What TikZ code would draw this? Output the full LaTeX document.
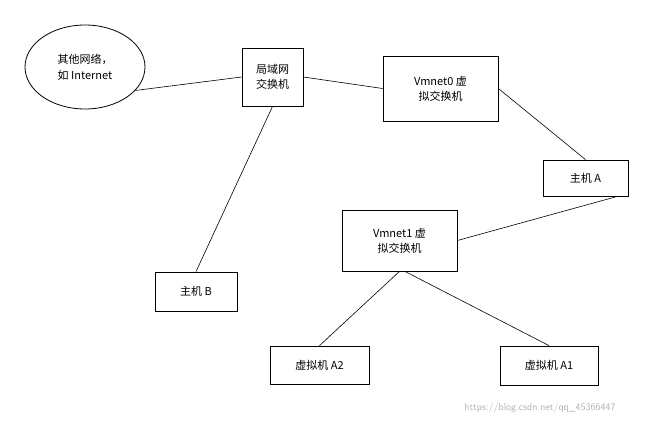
\documentclass[tikz,border=0pt]{standalone}
\usepackage{fontspec}
\setmainfont{Liberation Serif}
\newfontfamily\cjk{Noto Sans CJK SC}
\usetikzlibrary{shapes.geometric}
\begin{document}
\begin{tikzpicture}[x=1pt,y=-1pt,
  box/.style={draw,thick,minimum width=#1,inner sep=0pt,align=center,font=\cjk\fontsize{11}{15}\selectfont},
  ln/.style={draw,line width=0.6pt}]
\useasboundingbox[fill=white] (0,0) rectangle (664,426);
\node[draw,thick,ellipse,minimum width=120,minimum height=84,align=center,font=\cjk\fontsize{11}{16}\selectfont] (net) at (85,67) {其他网络，\\如 Internet};
\node[box=61,minimum height=58] (sw) at (272.5,77) {局域网\\交换机};
\node[box=115,minimum height=65] (v0) at (440.5,88.5) {Vmnet0 虚\\拟交换机};
\node[box=85,minimum height=36] (ha) at (585.5,178) {主机 A};
\node[box=115,minimum height=61] (v1) at (399.5,240.5) {Vmnet1 虚\\拟交换机};
\node[box=82,minimum height=39] (hb) at (196,291.5) {主机 B};
\node[box=99,minimum height=38] (a2) at (319.5,365) {虚拟机 A2};
\node[box=98,minimum height=39] (a1) at (549,365.5) {虚拟机 A1};
\node[text=gray!60,font=\fontsize{10}{12}\selectfont\sffamily] (wm) at (540,408) {https://blog.csdn.net/qq\_45366447};
\coordinate (p1) at (sw.south);
\draw[ln] (net.-25) -- (sw.west);
\draw[ln] (sw.east) -- (v0.west);
\draw[ln] (sw.south) -- (hb.north);
\draw[ln] (v0.east) -- (ha.north);
\draw[ln] (ha.-30) -- (v1.east);
\draw[ln] (v1.south) -- (a2.north);
\draw[ln] (v1.-80) -- (a1.north);
\end{tikzpicture}
\end{document}
